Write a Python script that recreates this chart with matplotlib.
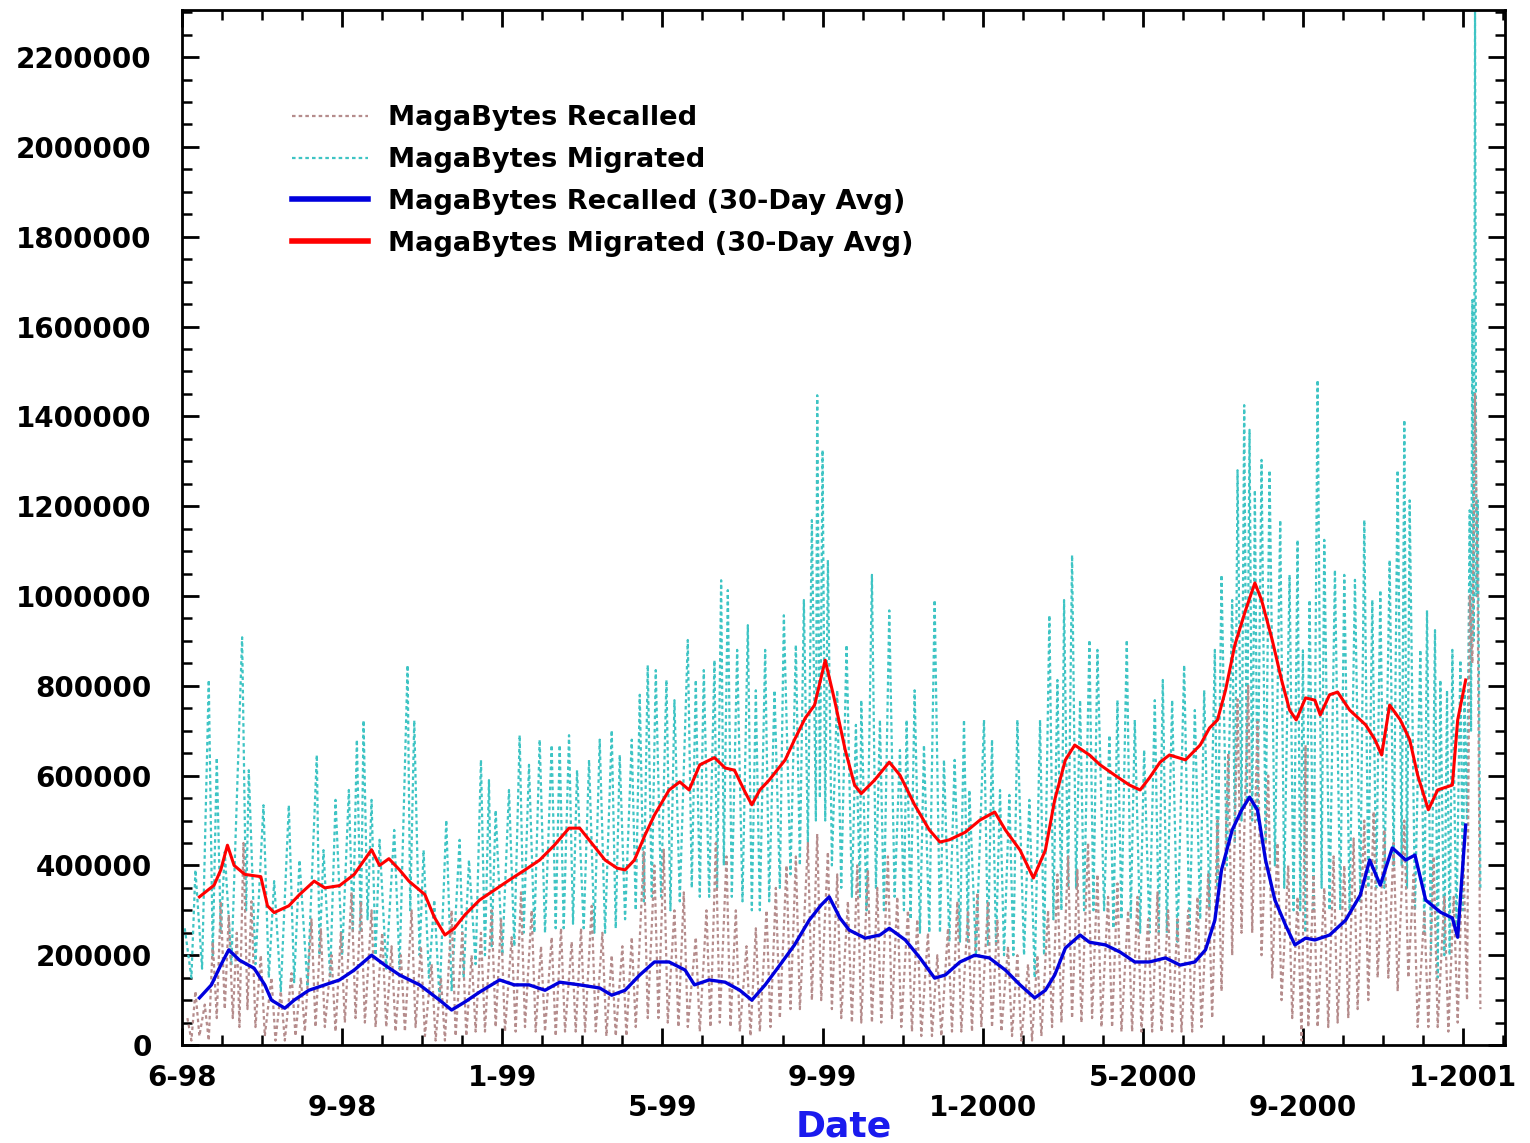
import matplotlib
matplotlib.use("Agg")
import matplotlib.pyplot as plt
from matplotlib.ticker import MultipleLocator, FixedLocator, FixedFormatter
import numpy as np

# ---------------- data (x = days since start, values in thousands of MB) ----------------
mig_days = [2, 7, 10, 15, 20, 23, 26, 29, 32, 37, 45, 48, 50, 55, 61, 65, 69, 74, 80, 84,
            88, 94, 101, 103, 106, 111, 115, 120, 125, 128, 131, 134, 136, 139, 142, 145, 148, 153, 159, 163,
            169, 171, 174, 178, 181, 185, 189, 193, 198, 202, 208, 211, 215, 220, 224, 227, 230, 232, 235, 240,
            245, 249, 253, 256, 260, 264, 268, 272, 277, 280, 283, 286, 290, 293, 296, 301, 305, 309, 313, 317,
            322, 325, 328, 332, 337, 340, 343, 346, 349, 352, 355, 359, 363, 366, 369, 373, 379, 382, 385, 388,
            391, 395, 399, 401, 404, 406, 409, 412, 416, 420, 424, 427, 430, 433, 437, 440, 444, 448, 451, 456,
            460, 463, 466, 469, 472, 475, 476, 478, 480, 482, 484, 487, 491, 494, 498, 502, 505, 508, 509, 513,
            517, 520, 523, 526, 530, 534, 538, 541, 543, 546, 549, 553, 556, 560, 564, 568, 571, 575, 579, 583,
            586, 589, 590, 595, 601, 604, 607, 610, 613, 616, 620, 623, 626, 631, 635, 639, 643, 646, 650, 653,
            656, 659, 661, 664, 667, 670, 673, 676, 680, 683, 686, 691, 695, 698, 701, 704, 708, 711, 714, 718,
            721, 725, 729, 732, 735, 738, 742, 746, 751, 755, 759, 763, 766, 770, 774, 776, 779, 783, 787, 789,
            791, 794, 796, 798, 800, 802, 804, 806, 809, 812, 815, 819, 823, 826, 830, 833, 836, 838, 840, 842,
            845, 848, 851, 854, 856, 860, 864, 868, 871, 875, 879, 883, 886, 889, 892, 895, 898, 901, 905, 908,
            911, 914, 916, 918, 920, 924, 928, 931, 933, 936, 939, 941, 943, 946, 948, 950, 952, 955, 958, 960,
            961, 963, 965, 966, 967, 968, 969, 970, 971, 973]
mig_vals = [260, 150, 390, 170, 813, 200, 640, 250, 430, 180, 908, 300, 612, 180, 534, 150, 365, 120, 534, 140,
            412, 130, 646, 200, 434, 150, 546, 200, 568, 250, 680, 250, 723, 280, 546, 200, 457, 170, 479, 170,
            846, 300, 723, 200, 434, 150, 323, 100, 501, 120, 457, 150, 412, 180, 635, 200, 590, 220, 523, 200,
            568, 220, 690, 250, 624, 250, 680, 250, 668, 260, 668, 260, 690, 270, 612, 260, 635, 250, 680, 250,
            701, 260, 646, 280, 680, 300, 780, 320, 846, 330, 835, 330, 813, 300, 768, 320, 902, 350, 813, 330,
            835, 330, 857, 350, 1035, 400, 1013, 330, 880, 320, 935, 300, 790, 300, 880, 320, 790, 350, 957, 380,
            891, 400, 991, 450, 1169, 500, 1447, 550, 1325, 500, 1080, 400, 790, 350, 891, 330, 713, 330, 768, 300,
            1047, 350, 724, 300, 968, 330, 657, 300, 724, 280, 790, 250, 668, 250, 991, 250, 635, 230, 635, 230,
            724, 230, 568, 200, 724, 220, 680, 220, 568, 200, 557, 200, 724, 200, 546, 150, 724, 200, 957, 280,
            813, 300, 991, 350, 1091, 350, 768, 300, 902, 300, 880, 300, 690, 260, 768, 280, 902, 280, 724, 250,
            657, 250, 768, 250, 813, 250, 768, 230, 846, 250, 746, 280, 790, 300, 880, 350, 1047, 400, 991, 450,
            1280, 500, 1425, 550, 1370, 500, 1236, 500, 1303, 450, 1280, 400, 1169, 350, 1047, 300, 1125, 300, 879, 250,
            991, 300, 1481, 350, 1125, 300, 1058, 300, 1047, 300, 1036, 320, 1169, 350, 991, 350, 1013, 350, 1080, 400,
            1280, 400, 1392, 350, 1213, 300, 880, 250, 968, 200, 924, 150, 813, 200, 790, 200, 880, 250, 857, 300,
            790, 500, 1191, 700, 1659, 900, 2300, 1000, 1213, 350]

rec_days = [4, 7, 10, 13, 17, 20, 23, 26, 29, 32, 35, 38, 41, 43, 46, 49, 52, 55, 59, 62,
            67, 70, 74, 77, 82, 85, 89, 92, 97, 100, 104, 107, 112, 115, 119, 122, 127, 130, 134, 137,
            142, 145, 150, 153, 157, 160, 164, 167, 172, 175, 179, 182, 187, 190, 194, 197, 202, 205, 210, 213,
            217, 220, 224, 227, 232, 235, 239, 242, 247, 250, 254, 257, 262, 265, 269, 272, 277, 280, 284, 287,
            292, 295, 299, 302, 307, 310, 315, 318, 322, 325, 330, 333, 337, 340, 346, 349, 354, 357, 361, 364,
            369, 372, 376, 379, 385, 388, 393, 396, 400, 403, 408, 411, 415, 418, 423, 426, 430, 433, 438, 441,
            445, 448, 453, 456, 460, 463, 469, 472, 476, 479, 484, 487, 491, 494, 499, 502, 506, 509, 514, 517,
            521, 524, 529, 532, 536, 539, 544, 547, 551, 554, 559, 562, 566, 569, 574, 577, 581, 584, 589, 592,
            596, 599, 604, 607, 611, 614, 619, 622, 626, 629, 634, 637, 641, 644, 649, 652, 656, 659, 664, 667,
            671, 674, 679, 682, 686, 689, 694, 697, 701, 704, 709, 712, 716, 719, 724, 727, 731, 734, 739, 742,
            746, 749, 754, 757, 761, 764, 769, 772, 776, 779, 784, 787, 791, 794, 799, 802, 806, 809, 814, 817,
            821, 824, 829, 832, 836, 839, 842, 844, 848, 851, 856, 859, 863, 866, 871, 874, 878, 881, 886, 889,
            893, 896, 901, 904, 908, 911, 916, 919, 923, 926, 931, 934, 938, 941, 946, 949, 953, 956, 960, 963,
            965, 967, 969, 971, 973]
rec_vals = [60, 10, 120, 20, 90, 10, 230, 60, 320, 80, 290, 60, 250, 40, 450, 80, 320, 40, 200, 20,
            150, 10, 120, 10, 160, 20, 150, 30, 280, 40, 260, 40, 200, 30, 250, 50, 340, 60, 320, 50,
            300, 40, 250, 40, 220, 30, 200, 30, 300, 40, 220, 20, 180, 10, 150, 10, 300, 20, 250, 20,
            200, 30, 250, 30, 300, 40, 280, 30, 240, 30, 340, 40, 300, 30, 220, 30, 240, 20, 260, 30,
            230, 30, 260, 30, 310, 30, 250, 20, 200, 20, 220, 20, 240, 40, 430, 60, 400, 60, 435, 50,
            300, 40, 340, 40, 240, 30, 300, 40, 450, 50, 420, 40, 300, 30, 220, 20, 260, 30, 300, 40,
            350, 60, 400, 80, 420, 80, 450, 100, 470, 100, 430, 80, 380, 60, 320, 50, 400, 50, 390, 50,
            350, 50, 420, 60, 330, 40, 300, 30, 280, 20, 250, 20, 200, 20, 260, 30, 320, 30, 300, 30,
            340, 40, 320, 40, 280, 30, 220, 20, 200, 10, 180, 10, 200, 20, 300, 40, 380, 50, 420, 60,
            390, 50, 450, 60, 380, 40, 330, 40, 360, 30, 300, 30, 330, 30, 280, 30, 340, 30, 300, 30,
            280, 30, 300, 30, 330, 40, 380, 60, 500, 120, 650, 200, 770, 250, 800, 250, 720, 200, 600, 150,
            450, 100, 400, 60, 330, 10, 668, 40, 380, 40, 350, 40, 420, 50, 400, 60, 460, 80, 500, 100,
            520, 150, 480, 150, 450, 120, 500, 150, 380, 40, 300, 40, 420, 40, 330, 30, 330, 50, 450, 100,
            1000, 850, 1450, 1000, 80]

mig_avg_days = [13, 24, 29, 34, 39, 47, 59, 64, 69, 80, 88, 99, 107, 118, 129, 142, 148, 155, 163, 170,
                182, 189, 197, 204, 212, 223, 234, 245, 257, 268, 279, 290, 298, 305, 317, 326, 332, 339, 347, 354,
                365, 373, 380, 388, 399, 407, 414, 422, 427, 433, 440, 452, 459, 467, 474, 482, 489, 497, 504, 509,
                519, 530, 538, 549, 560, 568, 575, 587, 598, 609, 617, 628, 638, 647, 654, 662, 669, 680, 688, 699,
                710, 718, 725, 733, 740, 752, 763, 770, 776, 782, 789, 797, 804, 809, 817, 824, 830, 835, 842, 849,
                853, 860, 866, 875, 887, 894, 899, 905, 913, 920, 926, 934, 941, 952, 956, 962]
mig_avg_vals = [330, 356, 390, 445, 400, 380, 375, 310, 295, 310, 335, 365, 350, 355, 380, 435, 400, 415, 390, 365,
                335, 285, 245, 260, 290, 323, 345, 367, 390, 412, 445, 483, 483, 457, 412, 394, 390, 412, 468, 512,
                568, 586, 568, 624, 640, 617, 612, 563, 535, 568, 590, 635, 680, 728, 757, 857, 768, 657, 579, 560,
                590, 630, 601, 535, 479, 452, 457, 474, 501, 519, 479, 434, 372, 434, 546, 635, 668, 646, 624, 601,
                579, 568, 595, 630, 646, 635, 668, 706, 724, 790, 891, 968, 1029, 991, 902, 813, 746, 724, 773, 768,
                735, 780, 786, 746, 713, 680, 646, 757, 724, 680, 601, 524, 568, 579, 724, 813]

rec_avg_days = [13, 22, 29, 35, 43, 54, 62, 67, 77, 84, 95, 107, 118, 129, 142, 152, 163, 178, 193, 202,
                212, 223, 238, 249, 260, 272, 283, 298, 313, 322, 332, 343, 354, 365, 377, 384, 395, 407, 418, 427,
                437, 448, 459, 470, 479, 485, 493, 500, 512, 523, 530, 542, 553, 564, 572, 583, 594, 605, 617, 628,
                639, 647, 654, 662, 673, 680, 692, 703, 714, 725, 737, 748, 759, 767, 774, 779, 787, 794, 800, 806,
                812, 819, 827, 834, 842, 849, 860, 872, 883, 890, 898, 907, 917, 924, 932, 943, 952, 956, 959, 962]
rec_avg_vals = [105, 134, 178, 212, 189, 171, 134, 100, 82, 100, 122, 134, 145, 167, 200, 178, 156, 134, 100, 78,
                96, 118, 145, 134, 134, 122, 140, 134, 127, 111, 122, 156, 185, 185, 167, 134, 145, 140, 122, 100,
                134, 178, 223, 278, 312, 330, 283, 256, 238, 245, 260, 234, 194, 149, 156, 185, 200, 194, 167, 134,
                105, 122, 156, 216, 245, 229, 223, 207, 185, 185, 194, 178, 185, 212, 278, 390, 479, 523, 552, 523,
                412, 323, 267, 223, 238, 234, 245, 278, 334, 412, 356, 439, 412, 423, 323, 296, 283, 240, 367, 490]

x_tick_pos = [0, 120, 240, 360, 480, 600, 720, 840, 960]
x_tick_labels = ["6-98", "9-98", "1-99", "5-99", "9-99", "1-2000", "5-2000", "9-2000", "1-2001"]
y_tick_pos = [0, 200000, 400000, 600000, 800000, 1000000, 1200000, 1400000, 1600000, 1800000, 2000000, 2200000]
y_tick_labels = [str(v) for v in y_tick_pos]

labels = ["MagaBytes Recalled", "MagaBytes Migrated",
          "MagaBytes Recalled (30-Day Avg)", "MagaBytes Migrated (30-Day Avg)"]

# ---------------- figure ----------------
plt.rcParams['font.family'] = ['DejaVu Sans']
plt.rcParams['font.weight'] = 'bold'

fig = plt.figure(figsize=(15.3, 11.43), dpi=100)
ax = fig.add_axes([0.119, 0.0857, 0.8647, 0.9056])

k = 1000.0
cyan = "#3ec4c4"
rosy = "#b58c8c"
dash = (0, (1.6, 1.4))

l_mig, = ax.plot(mig_days, np.array(mig_vals) * k, color=cyan, lw=1.6, ls=dash, zorder=2)
l_rec, = ax.plot(rec_days, np.array(rec_vals) * k, color=rosy, lw=1.6, ls=dash, zorder=3)
l_ravg, = ax.plot(rec_avg_days, np.array(rec_avg_vals) * k, color="#0000dd", lw=2.4, zorder=4)
l_mavg, = ax.plot(mig_avg_days, np.array(mig_avg_vals) * k, color="#ff0000", lw=2.2, zorder=5)

ax.set_xlim(0, 991.5)
ax.set_ylim(0, 2305000)

ax.xaxis.set_major_locator(FixedLocator(x_tick_pos))
ax.xaxis.set_major_formatter(FixedFormatter(
    [lab if i % 2 == 0 else "\n" + lab for i, lab in enumerate(x_tick_labels)]))
ax.xaxis.set_minor_locator(MultipleLocator(30))
ax.yaxis.set_major_locator(FixedLocator(y_tick_pos))
ax.yaxis.set_major_formatter(FixedFormatter(y_tick_labels))
ax.yaxis.set_minor_locator(MultipleLocator(50000))

ax.tick_params(axis='both', which='both', direction='in', top=True, right=True, color='black')
ax.tick_params(axis='both', which='major', length=12, width=2)
ax.tick_params(axis='both', which='minor', length=7, width=1.8)
ax.tick_params(axis='y', which='major', labelsize=20, pad=22)
ax.tick_params(axis='x', which='major', labelsize=20, pad=14)
for lab in ax.get_xticklabels() + ax.get_yticklabels():
    lab.set_fontweight('bold')
    lab.set_linespacing(1.05)

for sp in ax.spines.values():
    sp.set_linewidth(2)

ax.set_xlabel("Date", color="#1a1aee", fontsize=26, fontweight='bold')
ax.xaxis.set_label_coords(0.5, -0.062)

leg = ax.legend([l_rec, l_mig, l_ravg, l_mavg], labels, loc='upper left',
                bbox_to_anchor=(0.0725, 0.921), frameon=False, borderpad=0,
                handlelength=2.8, handletextpad=0.75, labelspacing=0.58,
                prop={'size': 19.6, 'weight': 'bold'})
for i, ln in enumerate(leg.get_lines()):
    ln.set_linewidth(1.6 if i < 2 else 4)

fig.savefig("out.png", dpi=100)
